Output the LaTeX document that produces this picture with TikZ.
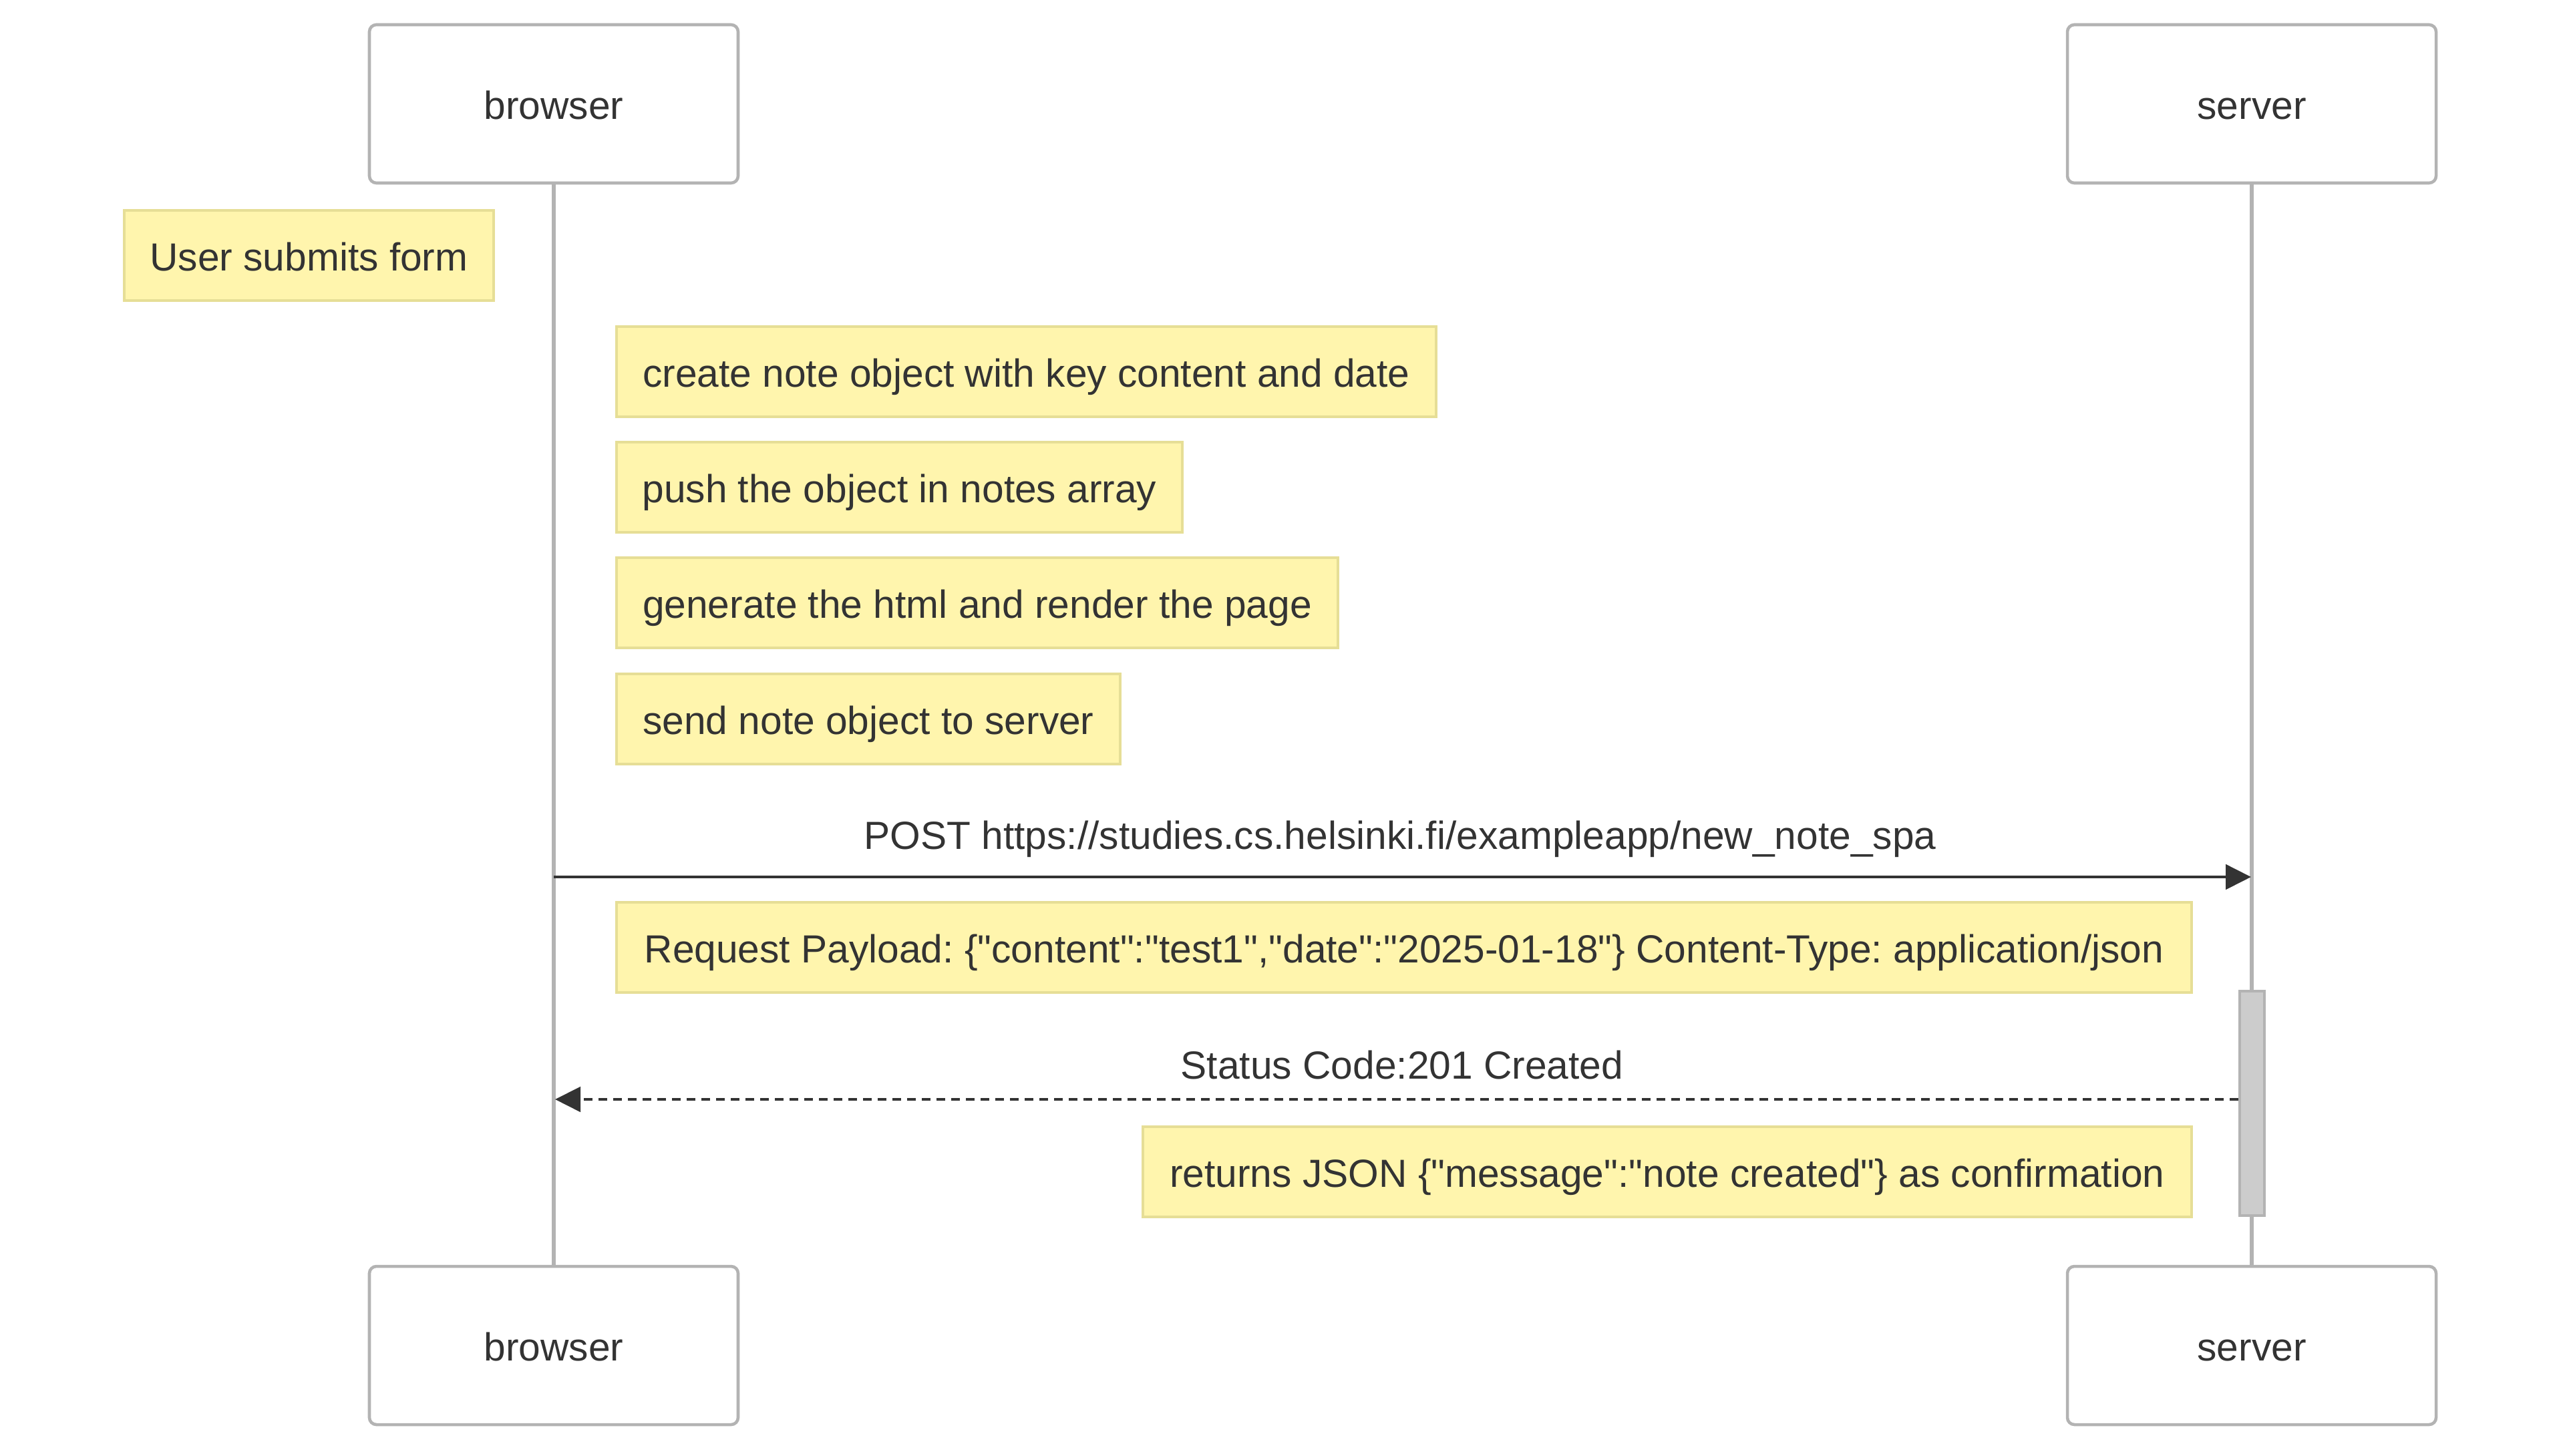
\documentclass[tikz,border=0pt]{standalone}
\usepackage{fontspec}
\setmainfont{Liberation Sans}[Ligatures=TeXOff]
\frenchspacing
\usetikzlibrary{arrows.meta, positioning}
\definecolor{seqText}{HTML}{333333}
\definecolor{seqActorLine}{HTML}{B3B3B3}
\definecolor{seqLife}{HTML}{B3B3B3}
\definecolor{seqNote}{HTML}{FFF5AD}
\definecolor{seqNoteLine}{HTML}{E6DE96}
\definecolor{seqAct}{HTML}{CCCCCC}
\tikzset{
  seqfig/.style={
    every node/.append style={font=\fontsize{16.7}{20}\selectfont, text=seqText},
  },
  actorbox/.style={
    draw=seqActorLine, line width=1.3pt, fill=white, rounded corners=3pt,
    minimum width=5.52cm, minimum height=2.37cm, inner sep=0pt,
    text height=16pt, text depth=2.8pt,
  },
  notebox/.style={
    draw=seqNoteLine, line width=1.1pt, fill=seqNote, anchor=north west,
    minimum height=1.35cm, inner sep=0pt,
    text height=16pt, text depth=2.8pt,
  },
  lifeline/.style={draw=seqLife, line width=1.5pt},
  actbar/.style={
    draw=seqLife, line width=1.1pt, fill=seqAct,
    minimum width=0.37cm, minimum height=3.36cm, inner sep=0pt,
  },
  msg/.style={draw=seqText, line width=1.4pt, -{Triangle[length=0.38cm, width=0.37cm]}},
  reply/.style={msg, dash pattern=on 0.13cm off 0.09cm},
  msglabel/.style={inner sep=0pt, anchor=base},
}

\begin{document}
\begin{tikzpicture}[seqfig, x=1cm, y=1cm]
  \useasboundingbox (0,0) rectangle (38.40,-21.79);
  \node[actorbox] (BrowserTop) at (8.29,-1.555) {browser};
  \node[actorbox] (ServerTop) at (33.71,-1.555) {server};
  \node[actorbox] (BrowserBot) at (8.29,-20.145) {browser};
  \node[actorbox] (ServerBot) at (33.71,-20.145) {server};
  \draw[lifeline] (BrowserTop) -- (BrowserBot);
  \draw[lifeline] (ServerTop) -- (ServerBot);
  \node[actbar] (ServerAct) at (33.715,-16.52) {};
  % Notizen links und zwischen den Lebenslinien
  \node[notebox, minimum width=5.53cm] (SubmitNote) at (1.84,-3.13) {User submits form};
  \node[notebox, minimum width=12.27cm] (CreateNote) at (9.21,-4.87) {create note object with key content and date};
  \node[notebox, minimum width=8.47cm] (PushNote) at (9.21,-6.60) {push the object in notes array};
  \node[notebox, minimum width=10.80cm] (RenderNote) at (9.21,-8.33) {generate the html and render the page};
  \node[notebox, minimum width=7.54cm] (SendNote) at (9.21,-10.07) {send note object to server};
  \coordinate (PostFrom) at (8.29,-13.13);
  \coordinate (PostTo) at (33.70,-13.13);
  \draw[msg] (PostFrom) -- (PostTo);
  \node[msglabel] (PostLabel) at (20.96,-12.71) {POST https://studies.cs.helsinki.fi/exampleapp/new\_note\_spa};
  \node[notebox, minimum width=23.58cm] (PayloadNote) at (9.21,-13.49) {Request Payload: \{"content":"test1","date":"2025-01-18"\} Content-Type: application/json};
  \coordinate (ReplyTo) at (8.31,-16.46);
  \draw[reply] (ServerAct.west |- ReplyTo) -- (ReplyTo);
  \node[msglabel] (ReplyLabel) at (20.99,-16.15) {Status Code:201 Created};
  \node[notebox, minimum width=15.70cm] (JsonNote) at (17.09,-16.85) {returns JSON \{"message":"note created"\} as confirmation};
\end{tikzpicture}
\end{document}
